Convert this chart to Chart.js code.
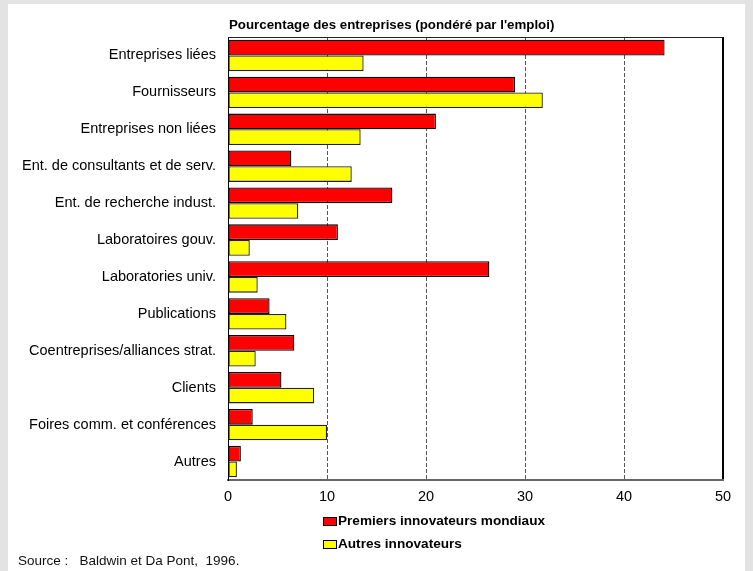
<!DOCTYPE html>
<html>
<head>
<meta charset="utf-8">
<script src="https://cdn.jsdelivr.net/npm/chart.js@4/dist/chart.umd.min.js"></script>
<style>
  html, body { margin: 0; padding: 0; background: #e3e3e3; }
  #wrap { position: absolute; left: 0; top: 0; width: 753px; height: 571px; }
</style>
</head>
<body>
<div id="wrap"><canvas id="c" width="753" height="571"></canvas></div>
<script>
// ---- Data ----
const categories = [
  "Entreprises liées",
  "Fournisseurs",
  "Entreprises non liées",
  "Ent. de consultants et de serv.",
  "Ent. de recherche indust.",
  "Laboratoires gouv.",
  "Laboratories univ.",
  "Publications",
  "Coentreprises/alliances strat.",
  "Clients",
  "Foires comm. et conférences",
  "Autres"
];
const premiersInnovateurs = [44.1, 29.0, 21.0, 6.4, 16.6, 11.1, 26.4, 4.2, 6.7, 5.4, 2.5, 1.3];
const autresInnovateurs   = [13.7, 31.8, 13.4, 12.5, 7.1, 2.2, 3.0, 5.9, 2.8, 8.7, 10.0, 0.9];
const seriesNames = ["Premiers innovateurs mondiaux", "Autres innovateurs"];
const xTicks = [0, 10, 20, 30, 40, 50];
const titleText = "Pourcentage des entreprises (pondéré par l'emploi)";
const sourceText = "Source :   Baldwin et Da Pont,  1996.";

const FONT = "'Liberation Sans', Arial, sans-serif";

const framePlugin = {
  id: 'frame',
  beforeDraw(chart) {
    const ctx = chart.ctx;
    ctx.save();
    ctx.fillStyle = '#e3e3e3';
    ctx.fillRect(0, 0, chart.width, chart.height);
    ctx.fillStyle = '#ffffff';
    ctx.fillRect(8, 4, chart.width - 8 - 8, chart.height - 4);
    ctx.restore();
  },
  afterDraw(chart) {
    const ctx = chart.ctx;
    const a = chart.chartArea;
    ctx.save();
    // top border
    ctx.strokeStyle = '#222';
    ctx.lineWidth = 1;
    ctx.beginPath();
    ctx.moveTo(a.left, a.top + 0.5);
    ctx.lineTo(a.right, a.top + 0.5);
    ctx.stroke();
    // title
    ctx.fillStyle = '#000';
    ctx.font = "bold 13.3px " + FONT;
    ctx.textAlign = 'left';
    ctx.textBaseline = 'middle';
    ctx.fillText(titleText, a.left + 1, a.top - 12);
    // legend
    const lx = a.left + 95;
    const ly0 = a.bottom + 41;
    chart.data.datasets.forEach((ds, i) => {
      const y = ly0 + i * 23;
      ctx.fillStyle = ds.backgroundColor;
      ctx.fillRect(lx, y - 3.5, 13, 8);
      ctx.strokeStyle = '#000';
      ctx.lineWidth = 1;
      ctx.strokeRect(lx + 0.5, y - 3.5, 13, 8);
      ctx.fillStyle = '#000';
      ctx.font = "bold 13.6px " + FONT;
      ctx.textBaseline = 'middle';
      ctx.fillText(ds.label, lx + 15, y);
    });
    // source
    ctx.font = "13.5px " + FONT;
    ctx.fillStyle = '#111';
    ctx.fillText(sourceText, 18, chart.height - 10);
    ctx.restore();
  }
};

new Chart(document.getElementById('c'), {
  type: 'bar',
  data: {
    labels: categories,
    datasets: [
      { label: seriesNames[0], data: premiersInnovateurs, backgroundColor: '#ff0000', borderColor: '#000', borderWidth: 1.3, borderSkipped: false },
      { label: seriesNames[1], data: autresInnovateurs, backgroundColor: '#ffff00', borderColor: '#222', borderWidth: 1.3, borderSkipped: false }
    ]
  },
  options: {
    indexAxis: 'y',
    responsive: false,
    animation: false,
    devicePixelRatio: 1,
    categoryPercentage: 0.85,
    barPercentage: 1.0,
    layout: { padding: { top: 37, right: 30, bottom: 61, left: 0 } },
    plugins: {
      legend: { display: false },
      title: { display: false },
      tooltip: { enabled: false }
    },
    scales: {
      x: {
        type: 'linear',
        min: xTicks[0],
        max: xTicks[xTicks.length - 1],
        afterBuildTicks(scale) { scale.ticks = xTicks.map(v => ({ value: v })); },
        afterFit(scale) { scale.height = 30; },
        ticks: { color: '#000', font: { family: FONT, size: 14.5 }, padding: 8 },
        grid: {
          drawTicks: false,
          color: (c) => c.tick && c.tick.value === 0 ? 'rgba(0,0,0,0)' : (c.tick && c.tick.value === 50 ? '#000' : '#555'),
          lineWidth: (c) => c.tick && c.tick.value === 50 ? 2 : 1
        },
        border: {
          display: true,
          color: '#666',
          width: 2,
          dash: (c) => (c.tick && c.tick.value > 0 && c.tick.value < 50) ? [4, 2] : []
        }
      },
      y: {
        afterFit(scale) { scale.width = 228; },
        ticks: { color: '#000', font: { family: FONT, size: 14.5 }, padding: 12 },
        grid: { display: false, drawTicks: false },
        border: { display: true, color: '#000', width: 1 }
      }
    }
  },
  plugins: [framePlugin]
});
</script>
</body>
</html>
